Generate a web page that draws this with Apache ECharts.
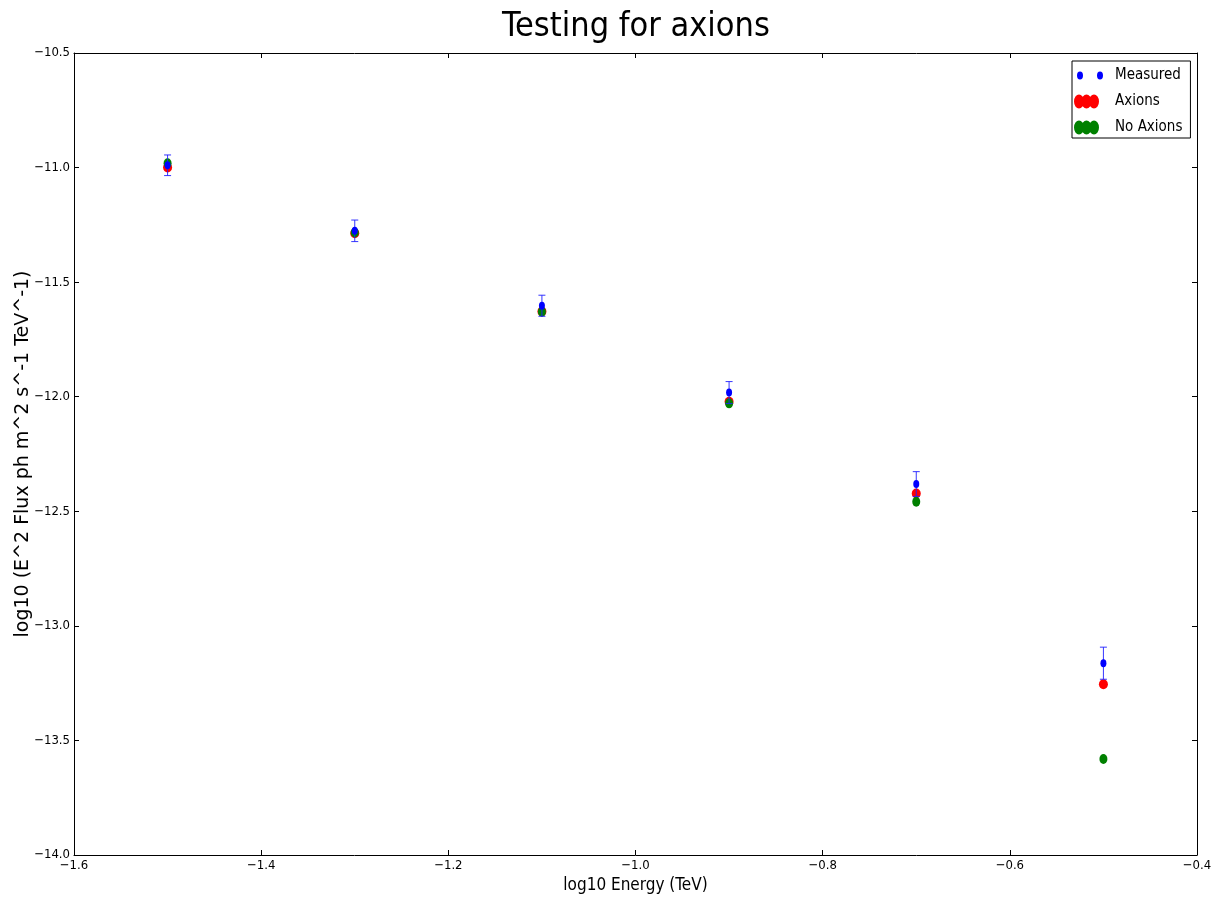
<!DOCTYPE html>
<html>
<head>
<meta charset="utf-8">
<script src="https://cdn.jsdelivr.net/npm/echarts@6/dist/echarts.min.js"></script>
<style>html,body{margin:0;padding:0;background:#fff}#c{width:1213px;height:900px}</style>
</head>
<body>
<div id="c"></div>
<script>
const energy = [-1.5, -1.3, -1.1, -0.9, -0.7, -0.5];
const measured = [-10.99, -11.276, -11.603, -11.982, -12.381, -13.163];
const measuredErr = [0.045, 0.047, 0.046, 0.048, 0.054, 0.07];
const axions = [-11.0, -11.287, -11.628, -12.022, -12.422, -13.255];
const noAxions = [-10.981, -11.283, -11.629, -12.029, -12.458, -13.581];
const xTicks = {min: -1.6, max: -0.4, step: 0.2};
const yTicks = {min: -14.0, max: -10.5, step: 0.5};

const FONT = '"DejaVu Sans Condensed", "DejaVu Sans", sans-serif';
const fmt = v => v.toFixed(1).replace('-', '\u2212');

const pts = arr => energy.map((x, i) => [x, arr[i]]);
const errData = energy.map((x, i) => [x, measured[i] - measuredErr[i], measured[i] + measuredErr[i]]);

const iconMeasured = 'path://M0,0M36,14M3,7a3,4 0 1,0 6,0a3,4 0 1,0 -6,0Z M23,7a3,4 0 1,0 6,0a3,4 0 1,0 -6,0Z';
const iconBig = 'path://M0,0M36,14M0,7a5,7 0 1,0 10,0a5,7 0 1,0 -10,0Z M7.5,7a5,7 0 1,0 10,0a5,7 0 1,0 -10,0Z M15,7a5,7 0 1,0 10,0a5,7 0 1,0 -10,0Z';

const chart = echarts.init(document.getElementById('c'), null, {renderer: 'canvas'});
const tickStyle = {show: true, inside: true, length: 5, lineStyle: {color: '#000', width: 1}};
const axisLine = {show: true, onZero: false, lineStyle: {color: '#000', width: 1}};
chart.setOption({
  animation: false,
  backgroundColor: '#fff',
  title: {
    text: 'Testing for axions',
    left: 631, top: 5, textAlign: 'center',
    textStyle: {fontFamily: FONT, fontSize: 34, fontWeight: 'normal', color: '#000'}
  },
  grid: {left: 74, right: 16, top: 53, bottom: 45, containLabel: false, outerBoundsMode: 'none'},
  legend: {
    left: 1072, top: 61, orient: 'vertical',
    backgroundColor: '#fff', borderColor: '#000', borderWidth: 1, borderRadius: 0,
    padding: [7, 8, 3, 2], itemGap: 11, itemWidth: 36, itemHeight: 14,
    textStyle: {fontFamily: FONT, fontSize: 15, color: '#000'},
    data: [
      {name: 'Measured', icon: iconMeasured},
      {name: 'Axions', icon: iconBig},
      {name: 'No Axions', icon: iconBig}
    ]
  },
  xAxis: [{
    type: 'value', min: xTicks.min, max: xTicks.max, interval: xTicks.step,
    name: 'log10 Energy (TeV)', nameLocation: 'middle', nameGap: 22, nameMoveOverlap: false,
    nameTextStyle: {fontFamily: FONT, fontSize: 17, color: '#000'},
    axisLine: axisLine, axisTick: tickStyle, splitLine: {show: false},
    axisLabel: {fontFamily: FONT, fontSize: 13, color: '#000', margin: 4, formatter: fmt}
  }, {
    type: 'value', position: 'top', min: xTicks.min, max: xTicks.max, interval: xTicks.step,
    axisLine: axisLine, axisTick: tickStyle, splitLine: {show: false}, axisLabel: {show: false}
  }],
  yAxis: [{
    type: 'value', min: yTicks.min, max: yTicks.max, interval: yTicks.step,
    name: 'log10 (E^2 Flux ph m^2 s^-1 TeV^-1)', nameLocation: 'middle', nameGap: 41, nameRotate: 90,
    nameMoveOverlap: false,
    nameTextStyle: {fontFamily: '"DejaVu Sans", sans-serif', fontSize: 19, color: '#000'},
    axisLine: axisLine, axisTick: tickStyle, splitLine: {show: false},
    axisLabel: {fontFamily: FONT, fontSize: 13, color: '#000', margin: 4, formatter: fmt}
  }, {
    type: 'value', position: 'right', min: yTicks.min, max: yTicks.max, interval: yTicks.step,
    axisLine: axisLine, axisTick: tickStyle, splitLine: {show: false}, axisLabel: {show: false}
  }],
  series: [
    {name: 'Axions', type: 'scatter', data: pts(axions), symbol: 'circle', symbolSize: [9, 10],
     itemStyle: {color: '#ff0000', opacity: 1}, z: 2},
    {name: 'No Axions', type: 'scatter', data: pts(noAxions), symbol: 'circle', symbolSize: [8, 10],
     itemStyle: {color: '#008000', opacity: 1}, z: 3},
    {name: 'Measured', type: 'custom', data: errData, z: 4,
     renderItem: function (params, api) {
       const x = api.value(0);
       const lo = api.coord([x, api.value(1)]);
       const hi = api.coord([x, api.value(2)]);
       const w = 3.5;
       const st = {stroke: '#2020ff', lineWidth: 1, opacity: 0.9};
       return {type: 'group', children: [
         {type: 'line', shape: {x1: lo[0], y1: lo[1], x2: hi[0], y2: hi[1]}, style: st},
         {type: 'line', shape: {x1: lo[0] - w, y1: lo[1], x2: lo[0] + w, y2: lo[1]}, style: st},
         {type: 'line', shape: {x1: hi[0] - w, y1: hi[1], x2: hi[0] + w, y2: hi[1]}, style: st}
       ]};
     },
     itemStyle: {color: '#0000ff'}},
    {name: 'Measured', type: 'scatter', data: pts(measured), symbol: 'circle', symbolSize: [6, 8],
     itemStyle: {color: '#0000ff', opacity: 1}, z: 5}
  ]
});
</script>
</body>
</html>
